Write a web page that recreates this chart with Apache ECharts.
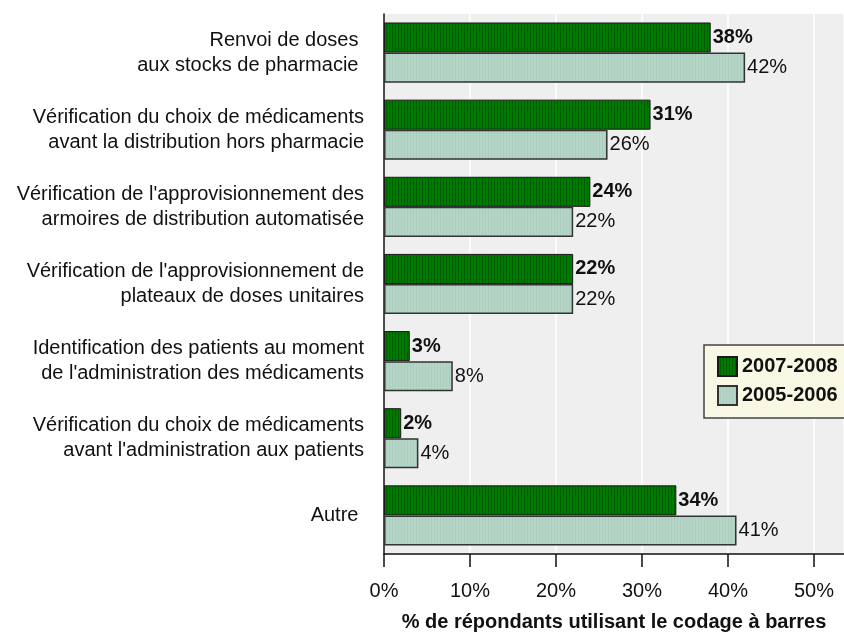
<!DOCTYPE html>
<html>
<head>
<meta charset="utf-8">
<script src="https://cdn.jsdelivr.net/npm/echarts@6/dist/echarts.min.js"></script>
<style>
  html, body { margin: 0; padding: 0; background: #fff; }
  #chart { width: 844px; height: 633px; }
</style>
</head>
<body>
<div id="chart"></div>
<script>
  var categories = [
    'Renvoi de doses \naux stocks de pharmacie ',
    'Vérification du choix de médicaments\navant la distribution hors pharmacie',
    "Vérification de l'approvisionnement des\narmoires de distribution automatisée",
    "Vérification de l'approvisionnement de\nplateaux de doses unitaires",
    "Identification des patients au moment\nde l'administration des médicaments",
    "Vérification du choix de médicaments\navant l'administration aux patients",
    'Autre '
  ]
  var series2007 = [38, 31, 24, 22, 3, 2, 34]
  var series2005 = [42, 26, 22, 22, 8, 4, 41]
  var seriesNames = ['2007-2008', '2005-2006']
  var xTicks = [0, 10, 20, 30, 40, 50]

  // petit motif de rayures verticales pour les barres
  function stripes(base, line){
    var c = document.createElement('canvas')
    c.width = 3
    c.height = 4
    var ctx = c.getContext('2d')
    ctx.fillStyle = base
    ctx.fillRect(0, 0, 3, 4)
    ctx.fillStyle = line
    ctx.fillRect(2, 0, 1, 4)
    return {image: c, repeat: 'repeat'}
  }
  var darkFill = stripes('#007a00', '#005c00')
  var lightFill = stripes('#b5d6c7', '#abcdbe')

  var myChart = echarts.init(document.getElementById('chart'))
  var font = 'Liberation Sans, Arial, sans-serif'

  var option = {
    backgroundColor: '#ffffff',
    textStyle: {fontFamily: font},
    animation: false,
    grid: {
      left: 384,
      right: 0,
      top: 14,
      bottom: 79,
      outerBoundsMode: 'none',
      containLabel: false,
      show: true,
      backgroundColor: '#efefef',
      borderWidth: 0
    },
    legend: {
      left: 704,
      top: 345,
      orient: 'vertical',
      data: seriesNames,
      icon: 'rect',
      backgroundColor: '#f8f8e5',
      borderColor: '#444',
      borderWidth: 1.5,
      borderRadius: 0,
      padding: [11, 12, 12, 13],
      itemWidth: 19,
      itemHeight: 19,
      itemGap: 8,
      textStyle: {fontSize: 20, fontWeight: 'bold', color: '#111', fontFamily: font}
    },
    xAxis: {
      type: 'value',
      min: 0,
      max: 53.5,
      interval: 10,
      name: '% de répondants utilisant le codage à barres',
      nameLocation: 'middle',
      nameGap: 58,
      nameTextStyle: {fontSize: 20, fontWeight: 'bold', color: '#111', fontFamily: font},
      axisLine: {show: true, lineStyle: {color: '#111', width: 1.5}},
      axisTick: {show: true, length: 13, lineStyle: {color: '#111', width: 1.5}},
      axisLabel: {
        fontSize: 20,
        color: '#111',
        margin: 27,
        showMaxLabel: false,
        formatter: function(v){ return xTicks.indexOf(v) >= 0 ? v + '%' : '' }
      },
      splitLine: {show: true, lineStyle: {color: '#ffffff', width: 1.5}}
    },
    yAxis: {
      type: 'category',
      inverse: true,
      data: categories,
      axisLine: {show: true, lineStyle: {color: '#111', width: 1.5}},
      axisTick: {show: false},
      axisLabel: {
        fontSize: 20,
        lineHeight: 25,
        color: '#111',
        margin: 20,
        align: 'right'
      }
    },
    series: [
      {
        name: seriesNames[0],
        type: 'bar',
        data: series2007,
        barGap: '0%',
        barCategoryGap: '22%',
        itemStyle: {color: darkFill, borderColor: '#1a1a1a', borderWidth: 1},
        label: {
          show: true,
          position: 'right',
          distance: 2,
          formatter: '{c}%',
          fontSize: 20,
          fontWeight: 'bold',
          color: '#111',
          fontFamily: font
        }
      },
      {
        name: seriesNames[1],
        type: 'bar',
        data: series2005,
        barGap: '0%',
        barCategoryGap: '22%',
        itemStyle: {color: lightFill, borderColor: '#333', borderWidth: 1.5},
        label: {
          show: true,
          position: 'right',
          distance: 2,
          formatter: '{c}%',
          fontSize: 20,
          color: '#111',
          fontFamily: font
        }
      }
    ]
  }
  myChart.setOption(option)
</script>
</body>
</html>
